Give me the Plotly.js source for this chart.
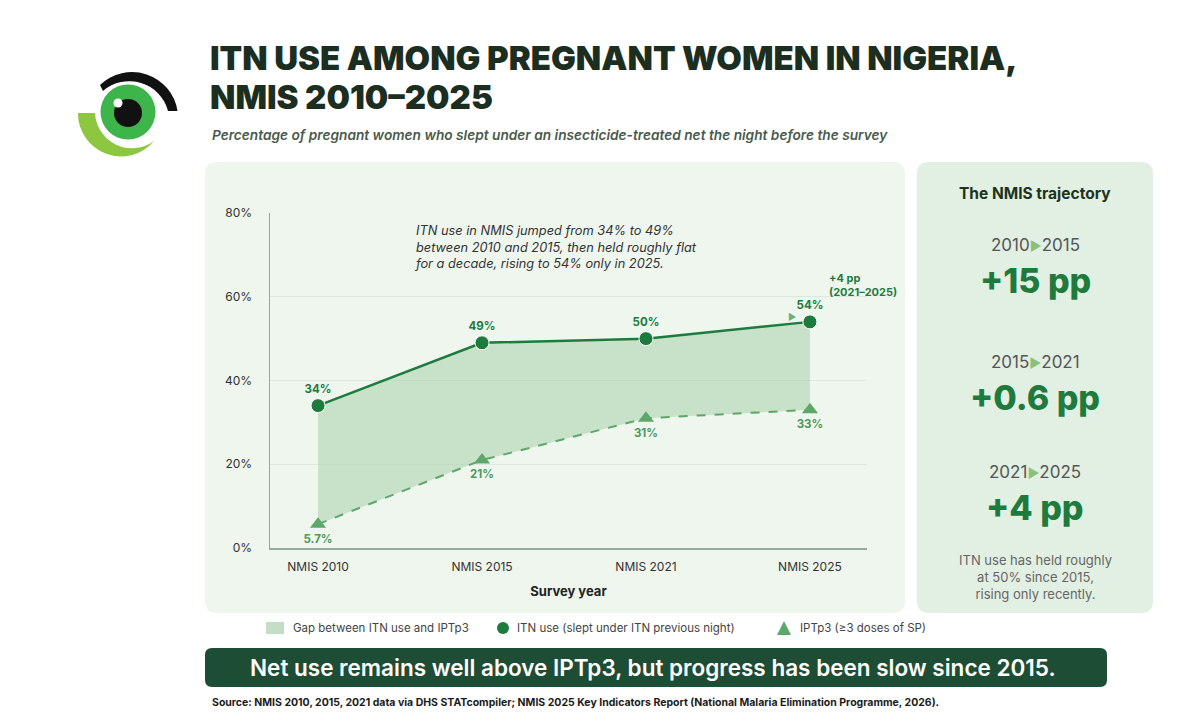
<!DOCTYPE html>
<html>
<head>
<meta charset="utf-8">
<script src="https://cdn.plot.ly/plotly-3.0.1.min.js"></script>
<style>
  html, body { margin: 0; padding: 0; background: #ffffff; }
  #chart { width: 1200px; height: 723px; }
</style>
</head>
<body>
<div id="chart"></div>
<script>
// ---------------- DATA ----------------
const categories = ['NMIS 2010', 'NMIS 2015', 'NMIS 2021', 'NMIS 2025'];
const itnUse = [34, 49, 50, 54];
const iptp3 = [5.7, 21, 31, 33];
const yTickValues = [0, 20, 40, 60, 80];
const yTickLabels = ['0%', '20%', '40%', '60%', '80%'];
const trajectoryPeriods = ['2010', '2015', '2021', '2025'];
const trajectoryChanges = ['+15 pp', '+0.6 pp', '+4 pp'];

// ---------------- LAYOUT HELPERS ----------------
const FONT = 'Inter, "Open Sans", "DejaVu Sans", sans-serif';
const L = 270, R = 867, T = 213, B = 548;
const W = R - L, H = B - T;
const px = v => (v - L) / W;
const py = v => (B - v) / H;

function roundRect(x0, y0, x1, y1, r) {
  const p = (x, y) => px(x) + ',' + py(y);
  return 'M' + p(x0 + r, y0) + ' L' + p(x1 - r, y0) + ' Q' + p(x1, y0) + ' ' + p(x1, y0 + r) +
    ' L' + p(x1, y1 - r) + ' Q' + p(x1, y1) + ' ' + p(x1 - r, y1) +
    ' L' + p(x0 + r, y1) + ' Q' + p(x0, y1) + ' ' + p(x0, y1 - r) +
    ' L' + p(x0, y0 + r) + ' Q' + p(x0, y0) + ' ' + p(x0 + r, y0) + ' Z';
}

function note(x, y, text, opts) {
  opts = opts || {};
  return Object.assign({
    xref: 'paper', yref: 'paper', x: px(x), y: py(y), text: text,
    showarrow: false, xanchor: 'center', yanchor: 'middle',
    font: { family: FONT, size: 12, color: '#333333' }
  }, opts);
}

const xIdx = categories.map((_, i) => i);
const pct = v => v + '%';

// ---------------- TRACES ----------------
const traceIpt = {
  x: xIdx, y: iptp3, type: 'scatter', mode: 'lines+markers+text',
  text: iptp3.map(pct), textposition: 'bottom center',
  textfont: { family: FONT, size: 11.5, color: '#4f9a5d', weight: 700 },
  line: { color: '#5ea76b', width: 2, dash: 'dash' },
  marker: { symbol: 'triangle-up', size: 14, color: '#5ea76b' },
  hoverinfo: 'skip', showlegend: false, cliponaxis: false
};
const traceItn = {
  x: xIdx, y: itnUse, type: 'scatter', mode: 'lines+markers+text',
  fill: 'tonexty', fillcolor: 'rgba(176,212,178,0.62)',
  text: itnUse.map(pct), textposition: 'top center',
  textfont: { family: FONT, size: 11.5, color: '#1e7b3e', weight: 700 },
  line: { color: '#1e7b3e', width: 2.5 },
  marker: { symbol: 'circle', size: 14, color: '#1e7b3e', line: { color: '#ffffff', width: 1 } },
  hoverinfo: 'skip', showlegend: false, cliponaxis: false
};

// ---------------- SHAPES ----------------
const shapes = [
  { type: 'path', xref: 'paper', yref: 'paper', layer: 'below', path: roundRect(205, 162, 905, 613, 12),
    fillcolor: '#eef6ee', line: { width: 0 } },
  { type: 'path', xref: 'paper', yref: 'paper', layer: 'below', path: roundRect(917, 162, 1153, 613, 12),
    fillcolor: '#e2efe3', line: { width: 0 } },
  { type: 'path', xref: 'paper', yref: 'paper', layer: 'below', path: roundRect(205, 648, 1107, 687, 7),
    fillcolor: '#1e4d36', line: { width: 0 } },
  // legend swatches
  { type: 'rect', xref: 'paper', yref: 'paper', x0: px(266), x1: px(284), y0: py(622), y1: py(634),
    fillcolor: '#c4dec5', line: { width: 0 } },
  { type: 'circle', xref: 'paper', yref: 'paper', x0: px(497), x1: px(509), y0: py(622), y1: py(634),
    fillcolor: '#1e7b3e', line: { width: 0 } },
  { type: 'path', xref: 'paper', yref: 'paper',
    path: 'M' + px(777) + ',' + py(635) + ' L' + px(791) + ',' + py(635) + ' L' + px(784) + ',' + py(621) + ' Z',
    fillcolor: '#5ea76b', line: { width: 0 } }
];

// ---------------- ANNOTATIONS ----------------
const arrow = '<span style="color:#8cc07a;font-size:13px">▶</span>';
const annotations = [
  note(208, 58, 'ITN USE AMONG PREGNANT WOMEN IN NIGERIA,', { xanchor: 'left',
    font: { family: FONT, size: 33, color: '#1b2e1f', weight: 900 } }),
  note(208, 97, 'NMIS 2010–2025', { xanchor: 'left',
    font: { family: FONT, size: 33, color: '#1b2e1f', weight: 900 } }),
  note(210, 135, 'Percentage of pregnant women who slept under an insecticide-treated net the night before the survey',
    { xanchor: 'left', font: { family: FONT, size: 13.7, color: '#4a5a4c', weight: 600, style: 'italic' } }),
  // in-chart narrative
  note(412, 221, 'ITN use in NMIS jumped from 34% to 49%<br>between 2010 and 2015, then held roughly flat<br>for a decade, rising to 54% only in 2025.',
    { xanchor: 'left', yanchor: 'top', align: 'left',
      font: { family: FONT, size: 12.8, color: '#333333', style: 'italic' } }),
  note(827, 269, '+4 pp<br>(2021–2025)', { xanchor: 'left', yanchor: 'top', align: 'left',
    font: { family: FONT, size: 11, color: '#1e7b3e', weight: 700 } }),
  note(792, 316, '▶', { font: { family: FONT, size: 9, color: '#6fae77' } }),
  // right panel
  note(1035, 193, 'The NMIS trajectory', { font: { family: FONT, size: 15.5, color: '#1c3320', weight: 700 } }),
  note(1035, 245, trajectoryPeriods[0] + arrow + trajectoryPeriods[1], { font: { family: FONT, size: 17, color: '#555555' } }),
  note(1035, 280, trajectoryChanges[0], { font: { family: FONT, size: 34, color: '#1f7a3d', weight: 800 } }),
  note(1035, 362, trajectoryPeriods[1] + arrow + trajectoryPeriods[2], { font: { family: FONT, size: 17, color: '#555555' } }),
  note(1035, 397, trajectoryChanges[1], { font: { family: FONT, size: 34, color: '#1f7a3d', weight: 800 } }),
  note(1035, 472, trajectoryPeriods[2] + arrow + trajectoryPeriods[3], { font: { family: FONT, size: 17, color: '#555555' } }),
  note(1035, 507, trajectoryChanges[2], { font: { family: FONT, size: 34, color: '#1f7a3d', weight: 800 } }),
  note(1035, 577, 'ITN use has held roughly<br>at 50% since 2015,<br>rising only recently.',
    { align: 'center', font: { family: FONT, size: 13, color: '#666666' } }),
  // legend labels
  note(291, 628, 'Gap between ITN use and IPTp3', { xanchor: 'left', font: { family: FONT, size: 11.5, color: '#444444' } }),
  note(515, 628, 'ITN use (slept under ITN previous night)', { xanchor: 'left', font: { family: FONT, size: 11.5, color: '#444444' } }),
  note(798, 628, 'IPTp3 (≥3 doses of SP)', { xanchor: 'left', font: { family: FONT, size: 11.5, color: '#444444' } }),
  // banner & source
  note(653, 667, 'Net use remains well above IPTp3, but progress has been slow since 2015.',
    { font: { family: FONT, size: 22.5, color: '#ffffff', weight: 600 } }),
  note(210, 702, 'Source: NMIS 2010, 2015, 2021 data via DHS STATcompiler; NMIS 2025 Key Indicators Report (National Malaria Elimination Programme, 2026).',
    { xanchor: 'left', font: { family: FONT, size: 10.5, color: '#1b1b1b', weight: 700 } })
];

// ---------------- LOGO ----------------
const logoSvg = '<svg xmlns="http://www.w3.org/2000/svg" width="120" height="100" viewBox="0 0 120 100">' +
  '<path d="M30,20 A46,46 0 0 1 107.5,46 L98,46 A40,40 0 0 0 33,26 Z" fill="#111111"/>' +
  '<path d="M8,48 A43,43 0 0 0 84,76 A37,37 0 0 1 25,48 Z" fill="#8dc63f"/>' +
  '<circle cx="58" cy="47" r="27.5" fill="#3db54a"/>' +
  '<circle cx="58" cy="48" r="14" fill="#111111"/>' +
  '<circle cx="48" cy="38" r="4.5" fill="#ffffff"/>' +
  '</svg>';
const images = [{
  source: 'data:image/svg+xml;charset=utf-8,' + encodeURIComponent(logoSvg),
  xref: 'paper', yref: 'paper', x: px(70), y: py(65), sizex: 120 / W, sizey: 100 / H,
  xanchor: 'left', yanchor: 'top', sizing: 'stretch', layer: 'above'
}];

const layout = {
  width: 1200, height: 723,
  margin: { l: L, r: 1200 - R, t: T, b: 723 - B, pad: 0 },
  paper_bgcolor: '#ffffff', plot_bgcolor: 'rgba(0,0,0,0)',
  font: { family: FONT, color: '#333333' },
  showlegend: false,
  xaxis: {
    range: [-0.293, 3.348], tickmode: 'array', tickvals: xIdx, ticktext: categories,
    showgrid: false, zeroline: false, showline: true, linecolor: '#9aa89a', linewidth: 1.5,
    ticks: '', ticklabelstandoff: 7, tickfont: { family: FONT, size: 12, color: '#333333' },
    title: { text: 'Survey year', standoff: 14, font: { family: FONT, size: 13, color: '#222222', weight: 700 } },
    fixedrange: true
  },
  yaxis: {
    range: [0, 80], tickmode: 'array', tickvals: yTickValues, ticktext: yTickLabels,
    showgrid: true, gridcolor: '#dde7dd', gridwidth: 1, zeroline: false,
    showline: true, linecolor: '#9aa89a', linewidth: 1.5,
    ticks: '', ticklabelstandoff: 14, tickfont: { family: FONT, size: 12, color: '#333333' },
    fixedrange: true
  },
  shapes: shapes,
  annotations: annotations,
  images: images
};

Plotly.newPlot('chart', [traceIpt, traceItn], layout, { displayModeBar: false, staticPlot: true });
</script>
</body>
</html>
